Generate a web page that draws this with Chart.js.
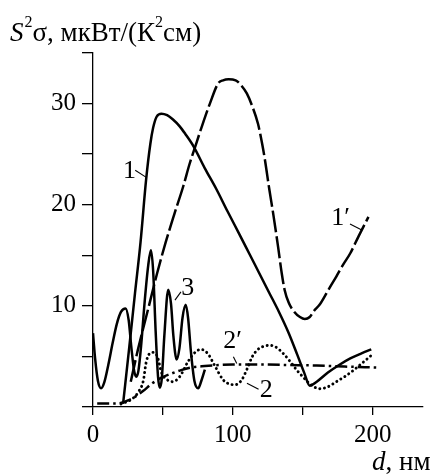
<!DOCTYPE html>
<html><head><meta charset="utf-8">
<script src="https://cdn.jsdelivr.net/npm/chart.js@4.4.1/dist/chart.umd.min.js"></script>
<style>html,body{margin:0;padding:0;background:#fff;}canvas{display:block}</style>
</head><body>
<canvas id="c" width="431" height="474"></canvas>
<script>
// ---- tick values / labels ----
const xTicks = [0, 50, 100, 150, 200];
const xTickLabels = {0: '0', 100: '100', 200: '200'};
const yTicks = [0, 5, 10, 15, 20, 25, 30, 35];
const yTickLabels = {10: '10', 20: '20', 30: '30'};

// ---- curve 1 (solid) ----
const c1X = [21.5, 26, 30, 34, 38, 41, 43, 45.5, 49, 53, 57, 62, 66, 72, 80, 88, 96, 105, 112, 119, 126, 133, 140, 146, 151, 155, 160, 168, 176, 184, 192, 199];
const c1Y = [0.3, 6, 11.2, 16.3, 22.5, 26, 27.6, 28.7, 29, 28.85, 28.45, 27.75, 27.0, 25.75, 23.6, 21.6, 19.4, 17, 15.1, 13.2, 11.3, 9.4, 7.3, 5.2, 3.4, 2.1, 2.5, 3.4, 4.15, 4.8, 5.3, 5.7];

// ---- curve 1' (long dash) ----
const c1pX = [27, 32, 40, 46, 52, 58, 64.5, 69, 73, 78, 83.6, 89.5, 93, 97, 102, 106, 110, 114, 118, 121, 123, 126, 129, 132.4, 135, 137, 140, 144, 148, 151.5, 155, 158, 162, 168, 174, 179, 184, 190, 197];
const c1pY = [2.5, 5.6, 10, 13.3, 16.3, 19, 21.8, 24, 25.7, 27.8, 30, 32, 32.3, 32.4, 32.3, 31.8, 31, 29.7, 28, 26, 24.4, 21.6, 19, 15.8, 13.2, 11.6, 10.3, 9.4, 8.9, 8.7, 8.9, 9.5, 10.1, 11.5, 12.9, 14.1, 15.2, 16.9, 18.8];

// ---- curve 2 (dotted) ----
const c2X = [20, 28, 33, 36, 38, 40, 43, 46, 49, 53, 57, 62, 68, 73, 77, 82, 87, 93, 97, 101.4, 106, 110, 114, 118, 122, 126.4, 131, 136, 141, 146, 150, 155, 162, 168, 174, 180, 186, 193, 199];
const c2Y = [0.3, 0.8, 1.6, 2.6, 4.4, 5.2, 5.4, 5.0, 3.4, 2.7, 2.5, 3.0, 4.5, 5.4, 5.7, 5.3, 4.1, 2.7, 2.3, 2.2, 2.6, 3.7, 5.0, 5.7, 6.0, 6.1, 5.9, 5.3, 4.5, 3.6, 3.0, 2.3, 1.8, 2.0, 2.5, 3.0, 3.6, 4.4, 5.1];

// ---- curve 2' (dash-dot) ----
const c2pX = [3, 10, 17, 21, 25, 30, 36, 42, 49, 56, 63, 70, 80, 90, 100, 120, 140, 160, 180, 203];
const c2pY = [0.35, 0.35, 0.35, 0.45, 0.65, 1.0, 1.6, 2.3, 2.9, 3.3, 3.65, 3.9, 4.05, 4.15, 4.2, 4.2, 4.15, 4.1, 4.0, 3.9];

// ---- curve 3 (solid, oscillating) ----
const c3X = [0, 1.5, 3.5, 5.8, 8, 11, 14, 17, 20, 23.3, 25.5, 27.5, 29.5, 31, 32.5, 34.5, 37, 39.5, 41.4, 43, 44.8, 46.5, 47.8, 49.2, 51, 53.8, 55.8, 57.5, 59.8, 61.8, 64, 66.3, 68, 70, 72.5, 75.2, 77.5, 80];
const c3Y = [7.3, 4.8, 2.6, 1.85, 2.4, 4.2, 6.3, 8.2, 9.4, 9.75, 8.6, 5.8, 3.5, 3.0, 3.6, 6.2, 10.5, 14.0, 15.5, 13.5, 7.5, 3.0, 1.9, 2.8, 7.0, 11.6, 10.2, 7.0, 4.7, 5.8, 8.8, 10.1, 8.8, 5.5, 2.6, 1.85, 2.6, 3.7];

// ---- curve labels ----
const labelTexts = ['1', '1\u2032', '3', '2\u2032', '2'];
const labelX = [21.4, 170.3, 63.2, 93.1, 119.3];
const labelY = [22.6, 18.0, 11.05, 5.82, 0.99];
const leaderX1 = [30.2, 183.8, 58.6, 100.4, 110.1];
const leaderY1 = [23.4, 18.1, 10.56, 4.96, 2.34];
const leaderX2 = [38.1, 192.2, 62.9, 102.8, 118.4];
const leaderY2 = [22.7, 17.5, 11.38, 4.31, 1.75];

const pts = (xs, ys) => xs.map((x, i) => ({x: x, y: ys[i]}));
const SERIF = '"Liberation Serif", "Times New Roman", serif';

function ds(label, xs, ys, dash, width, cap) {
  return {
    label: label, data: pts(xs, ys), showLine: true, pointRadius: 0,
    borderColor: '#000', backgroundColor: '#000', borderWidth: width,
    borderDash: dash, cubicInterpolationMode: 'monotone', fill: false,
    borderCapStyle: cap || 'butt'
  };
}

const annot = {
  id: 'annot',
  afterDraw(chart) {
    const ctx = chart.ctx, xs = chart.scales.x, ys = chart.scales.y;
    ctx.save();
    ctx.fillStyle = '#000'; ctx.strokeStyle = '#000';
    ctx.textBaseline = 'alphabetic'; ctx.textAlign = 'left';
    ctx.font = '26px ' + SERIF;
    ctx.lineWidth = 1.1;
    labelTexts.forEach((t, i) => {
      ctx.fillText(t, xs.getPixelForValue(labelX[i]), ys.getPixelForValue(labelY[i]));
      ctx.beginPath();
      ctx.moveTo(xs.getPixelForValue(leaderX1[i]), ys.getPixelForValue(leaderY1[i]));
      ctx.lineTo(xs.getPixelForValue(leaderX2[i]), ys.getPixelForValue(leaderY2[i]));
      ctx.stroke();
    });
    // y-axis title
    let x = 10; const base = 41;
    const big = '27px ' + SERIF, bigI = 'italic 27px ' + SERIF, sup = '16px ' + SERIF;
    ctx.font = bigI; ctx.fillText('S', x, base); x += ctx.measureText('S').width + 1;
    ctx.font = sup; ctx.fillText('2', x, base - 14); x += ctx.measureText('2').width;
    ctx.font = big; ctx.fillText('\u03c3, мкВт/(К', x, base); x += ctx.measureText('\u03c3, мкВт/(К').width;
    ctx.font = sup; ctx.fillText('2', x, base - 14); x += ctx.measureText('2').width;
    ctx.font = big; ctx.fillText('см)', x, base);
    // x-axis title
    let x2 = 372; const base2 = 470;
    ctx.font = bigI; ctx.fillText('d', x2, base2); x2 += ctx.measureText('d').width;
    ctx.font = big; ctx.fillText(', нм', x2, base2);
    ctx.restore();
  }
};

new Chart(document.getElementById('c'), {
  type: 'scatter',
  data: {
    datasets: [
      ds('1', c1X, c1Y, [], 2.5),
      ds("1'", c1pX, c1pY, [22, 4], 2.5),
      ds('2', c2X, c2Y, [0.1, 4.6], 2.9, 'round'),
      ds("2'", c2pX, c2pY, [12, 4, 2.5, 4], 2.5),
      ds('3', c3X, c3Y, [], 2.5)
    ]
  },
  options: {
    responsive: false, animation: false, devicePixelRatio: 1,
    layout: {padding: {left: 0, right: 8, top: 53, bottom: 0}},
    plugins: {legend: {display: false}, tooltip: {enabled: false}},
    scales: {
      x: {
        type: 'linear', min: 0, max: 236, bounds: 'data',
        afterBuildTicks: s => { s.ticks = xTicks.map(v => ({value: v})); },
        afterFit: s => { s.height = 67; },
        ticks: {callback: v => (xTickLabels[v] !== undefined ? xTickLabels[v] : ''), font: {family: SERIF, size: 25}, color: '#000', padding: 5, maxRotation: 0, autoSkip: false},
        grid: {drawOnChartArea: false, drawTicks: true, tickLength: 8, color: '#000', lineWidth: 1.3},
        border: {display: true, color: '#000', width: 1.3}
      },
      y: {
        type: 'linear', min: 0, max: 35, bounds: 'data',
        afterBuildTicks: s => { s.ticks = yTicks.map(v => ({value: v})); },
        afterFit: s => { s.width = 93; },
        ticks: {callback: v => (yTickLabels[v] !== undefined ? yTickLabels[v] : ''), font: {family: SERIF, size: 25}, color: '#000', padding: 6, autoSkip: false},
        grid: {drawOnChartArea: false, drawTicks: true, tickLength: 11, color: '#000', lineWidth: 1.3},
        border: {display: true, color: '#000', width: 1.3}
      }
    }
  },
  plugins: [annot]
});
</script>
</body></html>
